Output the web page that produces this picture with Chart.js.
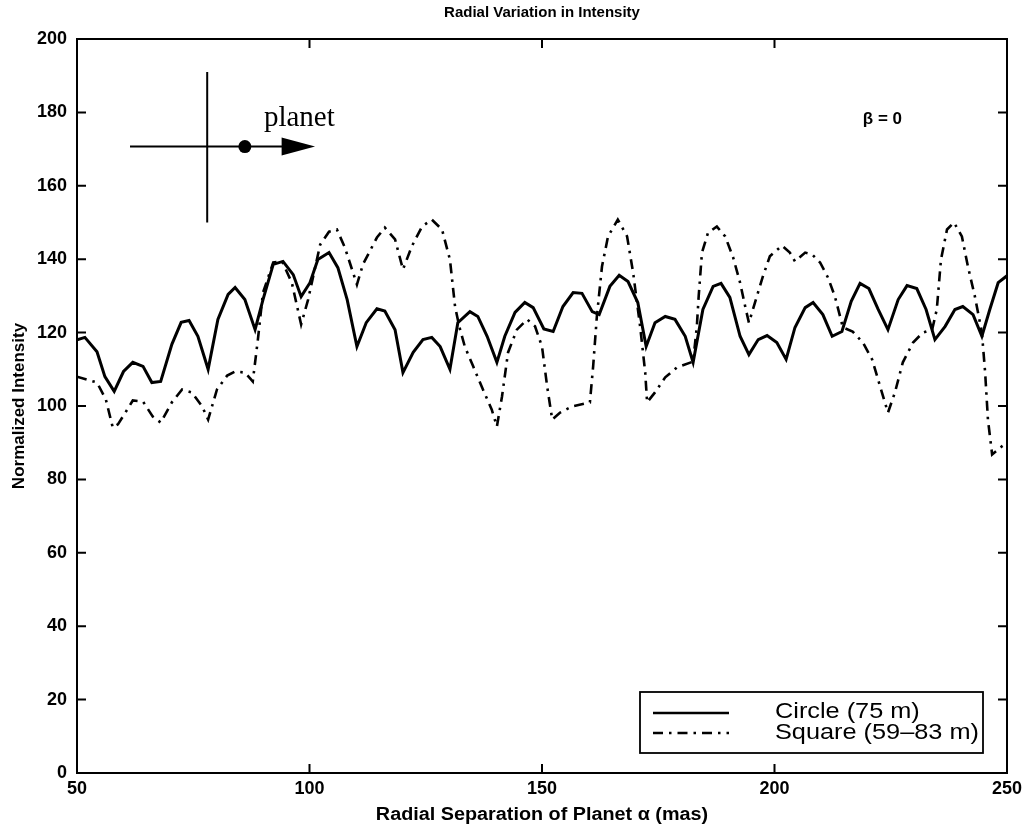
<!DOCTYPE html>
<html>
<head>
<meta charset="utf-8">
<script src="https://cdn.jsdelivr.net/npm/chart.js@4.4.0/dist/chart.umd.min.js"></script>
<style>
  body { margin: 0; background: #fff; }
  canvas { display: block; }
</style>
</head>
<body>
<canvas id="chart" width="1028" height="830"></canvas>
<script>
// values (radial separation in mas, normalized intensity)
const circleX = [50, 51.7, 54.3, 56, 58, 60, 62, 64.2, 66.1, 68, 70.4, 72.4, 74.1, 76, 78.2, 80.3, 82.5, 84, 86.1, 88.3,
  90, 92.2, 94.3, 96.5, 98.2, 100.1, 101.8, 104.2, 106.1, 108.1, 110.2, 112.2, 114.5, 116.2, 118.4, 120.1, 122.3, 124.4,
  126.3, 128.1, 130.2, 131.9, 134.5, 136.2, 138.2, 140.3, 142, 144.2, 146.3, 148.1, 150.4, 152.4, 154.5, 156.7, 158.6,
  160.8, 162.3, 164.6, 166.6, 168.5, 170.6, 172.4, 174.3, 176.5, 178.6, 180.8, 182.5, 184.6, 186.8, 188.5, 190.4, 192.6,
  194.5, 196.5, 198.4, 200.5, 202.5, 204.4, 206.6, 208.3, 210.4, 212.4, 214.5, 216.5, 218.4, 220.3, 222.3, 224.4, 226.6,
  228.5, 230.6, 232.6, 234.5, 236.7, 238.8, 240.5, 242.7, 244.6, 246.3, 248.1, 250];
const circleY = [118, 118.7, 114.8, 108, 104, 109.4, 111.9, 110.8, 106.4, 106.7, 116.8, 122.8, 123.3, 119, 110, 123.6, 130.4, 132.3, 129, 120.8,
  129, 138.6, 139.4, 135.8, 129.8, 133.6, 139.9, 141.8, 137.7, 129, 116.2, 122.7, 126.5, 125.9, 120.8, 109.1, 114.6, 118.1,
  118.7, 116.2, 110, 122.7, 125.7, 124.4, 119, 111.9, 119, 125.5, 128.2, 126.8, 121, 120.3, 127.1, 130.9, 130.7,
  125.7, 124.9, 132.6, 135.6, 133.9, 128.2, 116.2, 122.7, 124.4, 123.6, 119, 111.9, 126.3, 132.6, 133.4, 129.6, 119,
  114, 118.1, 119.2, 117.3, 112.7, 121.4, 126.8, 128.2, 124.9, 119, 120.3, 128.5, 133.4, 132, 126.3, 120.8, 129,
  132.8, 132, 126.3, 118.1, 121.7, 126.3, 127.1, 124.9, 119, 126.3, 133.6, 135.5];

const squareX = [50, 54.3, 56.2, 57.7, 58.8, 60.8, 62, 64.2, 66.3, 68, 70.4, 72.6, 74.7, 76.9, 78.2, 80.1, 82.3, 84, 86.1, 87.8,
  88.9, 90, 92.2, 94.1, 96.2, 98.2, 99.7, 102.3, 104.2, 105.9, 107.6, 110.2, 111.5, 114.5, 116.2, 118.4, 120.1, 122, 124.2,
  126.3, 128.5, 130.2, 131.3, 132.2, 133.4, 135.2, 137.3, 139.2, 140.3, 141.4, 142.7, 144.6, 146.8, 148.5, 150, 151.1, 152.2,
  153.9, 156.5, 160.3, 161, 161.8, 162.9, 164.2, 166.3, 168.3, 169.6, 171.1, 172.2, 172.6, 174.3, 176.5, 179, 182.5, 183.3,
  183.7, 184.4, 185.7, 187.6, 189.4, 191.1, 192.6, 193.7, 194.5, 195.8, 197.5, 199, 201.6, 203.3, 204.4, 206.6, 208.1, 209.8,
  211.5, 213, 214.1, 214.7, 216.8, 219, 221, 222.7, 224.4, 225.9, 227.6, 229.8, 231.9, 233.9, 234.9, 235.8, 237.1, 238.6,
  240.3, 241.6, 243.1, 244.6, 245.3, 245.9, 246.8, 248.9, 250];
const squareY = [108, 106.4, 101.8, 94.1, 95, 99, 101.5, 101.2, 97.1, 95.5, 101, 104.5, 103.7, 99.9, 96.3, 104.5, 108.3, 109.4, 109.1, 106.7,
  118.1, 130.9, 139.1, 139.4, 133.6, 122.2, 129, 144, 147.5, 148.1, 143.2, 133.1, 138.6, 145.9, 148.6, 145.4, 137.2, 143.5, 148.9,
  150.8, 148.1, 139.9, 127.1, 121.7, 116.2, 110.8, 104.5, 99, 94.4, 102.6, 114.6, 120.8, 123.6, 121.7, 116.2, 105.4, 96.3,
  98.2, 99.9, 101, 110.8, 124.4, 138, 146.2, 150.8, 146.2, 136.3, 121.7, 109.1, 101, 103.7, 107.8, 110.5, 112.1, 121.7,
  130, 141.8, 147.2, 148.9, 146.2, 140.5, 133.6, 127.1, 122.7, 128.2, 135.3, 140.8, 143.7, 141.8, 139.4, 141.8, 141.3, 139.1,
  135, 129.8, 124.4, 121.4, 120.3, 117.3, 112.7, 105.4, 98.2, 103.7, 111.9, 117.3, 120, 120.8, 126.3, 139.9, 148.1, 150,
  146.2, 138, 129.8, 120, 109.1, 96.3, 86.8, 89, 90];

const xTicks = [50, 100, 150, 200, 250];
const yTicks = [0, 20, 40, 60, 80, 100, 120, 140, 160, 180, 200];
const seriesLabels = ['Circle (75 m)', 'Square (59\u201383 m)'];

const toPoints = (xs, ys) => xs.map((x, i) => ({x: x, y: ys[i]}));

const DASHDOT = [10, 6, 2.5, 6];
const SANS = '"Liberation Sans", Arial, sans-serif';

// text drawn a little wider than Arial, like the scanned Helvetica
function wideText(ctx, text, x, y, stretch) {
  ctx.save();
  ctx.translate(x, y);
  ctx.scale(stretch, 1);
  ctx.fillText(text, 0, 0);
  ctx.restore();
}

// frame, inward ticks, titles, legend and the little planet sketch
const decor = {
  id: 'decor',
  afterDraw(chart) {
    const ctx = chart.ctx;
    const a = chart.chartArea;
    const sx = chart.scales.x, sy = chart.scales.y;
    ctx.save();
    ctx.strokeStyle = '#000';
    ctx.fillStyle = '#000';
    ctx.lineWidth = 2;
    ctx.strokeRect(a.left, a.top, a.right - a.left, a.bottom - a.top);
    ctx.beginPath();
    xTicks.forEach(v => {
      const px = sx.getPixelForValue(v);
      ctx.moveTo(px, a.bottom); ctx.lineTo(px, a.bottom - 9);
      ctx.moveTo(px, a.top); ctx.lineTo(px, a.top + 9);
    });
    yTicks.forEach(v => {
      const py = sy.getPixelForValue(v);
      ctx.moveTo(a.left, py); ctx.lineTo(a.left + 9, py);
      ctx.moveTo(a.right, py); ctx.lineTo(a.right - 9, py);
    });
    ctx.stroke();

    // titles
    ctx.textAlign = 'center';
    ctx.textBaseline = 'middle';
    ctx.font = 'bold 15px ' + SANS;
    ctx.fillText('Radial Variation in Intensity', (a.left + a.right) / 2, 13);
    ctx.font = 'bold 18px ' + SANS;
    wideText(ctx, 'Radial Separation of Planet \u03b1 (mas)', (a.left + a.right) / 2, 815, 1.1);
    ctx.save();
    ctx.translate(19, (a.top + a.bottom) / 2);
    ctx.rotate(-Math.PI / 2);
    ctx.font = 'bold 17px ' + SANS;
    ctx.fillText('Normalized Intensity', 0, 0);
    ctx.restore();

    // beta label
    ctx.font = 'bold 17px ' + SANS;
    ctx.fillText('\u03b2 = 0', sx.getPixelForValue(223.2), sy.getPixelForValue(178));

    // planet sketch
    const cx = sx.getPixelForValue(78), cy = sy.getPixelForValue(170.7);
    ctx.lineWidth = 2;
    ctx.beginPath();
    ctx.moveTo(cx, sy.getPixelForValue(191)); ctx.lineTo(cx, sy.getPixelForValue(150));
    ctx.moveTo(sx.getPixelForValue(61.4), cy); ctx.lineTo(sx.getPixelForValue(94.5), cy);
    ctx.stroke();
    const hx0 = sx.getPixelForValue(94), hx1 = sx.getPixelForValue(101.2);
    ctx.beginPath();
    ctx.moveTo(hx0, cy - 9); ctx.lineTo(hx1, cy); ctx.lineTo(hx0, cy + 9); ctx.closePath();
    ctx.fill();
    ctx.beginPath();
    ctx.arc(sx.getPixelForValue(86.1), cy, 6.5, 0, Math.PI * 2);
    ctx.fill();
    ctx.textAlign = 'left';
    ctx.textBaseline = 'alphabetic';
    ctx.font = '29px "Liberation Serif", "Times New Roman", serif';
    ctx.fillText('planet', sx.getPixelForValue(90.2), sy.getPixelForValue(176.2));

    // legend
    const lx = 640, ly = 692, lw = 343, lh = 61;
    ctx.fillStyle = '#fff';
    ctx.fillRect(lx, ly, lw, lh);
    ctx.fillStyle = '#000';
    ctx.lineWidth = 1.8;
    ctx.strokeRect(lx, ly, lw, lh);
    ctx.lineWidth = 2.5;
    ctx.beginPath();
    ctx.moveTo(653, 713); ctx.lineTo(729, 713);
    ctx.stroke();
    ctx.setLineDash(DASHDOT);
    ctx.beginPath();
    ctx.moveTo(653, 733); ctx.lineTo(729, 733);
    ctx.stroke();
    ctx.setLineDash([]);
    ctx.font = '22px ' + SANS;
    ctx.textBaseline = 'middle';
    wideText(ctx, seriesLabels[0], 775, 712, 1.15);
    wideText(ctx, seriesLabels[1], 775, 733, 1.15);
    ctx.restore();
  }
};

new Chart(document.getElementById('chart'), {
  type: 'scatter',
  data: {
    datasets: [
      {
        label: seriesLabels[0],
        data: toPoints(circleX, circleY),
        showLine: true,
        borderColor: '#000',
        borderWidth: 3,
        pointRadius: 0,
        tension: 0
      },
      {
        label: seriesLabels[1],
        data: toPoints(squareX, squareY),
        showLine: true,
        borderColor: '#000',
        borderWidth: 2.6,
        borderDash: DASHDOT,
        pointRadius: 0,
        tension: 0
      }
    ]
  },
  options: {
    responsive: false,
    animation: false,
    layout: {padding: {top: 39, right: 21, left: 0, bottom: 0}},
    plugins: {legend: {display: false}, tooltip: {enabled: false}, title: {display: false}},
    scales: {
      x: {
        type: 'linear',
        min: 50, max: 250,
        afterBuildTicks: s => { s.ticks = xTicks.map(v => ({value: v})); },
        afterFit: s => { s.height = 57; },
        grid: {display: false, drawTicks: false},
        border: {display: false},
        ticks: {color: '#000', padding: 5, maxRotation: 0, font: {family: SANS, size: 18, weight: 'bold'}}
      },
      y: {
        min: 0, max: 200,
        afterBuildTicks: s => { s.ticks = yTicks.map(v => ({value: v})); },
        afterFit: s => { s.width = 77; },
        grid: {display: false, drawTicks: false},
        border: {display: false},
        ticks: {color: '#000', padding: 10, font: {family: SANS, size: 18, weight: 'bold'}}
      }
    }
  },
  plugins: [decor]
});
</script>
</body>
</html>
